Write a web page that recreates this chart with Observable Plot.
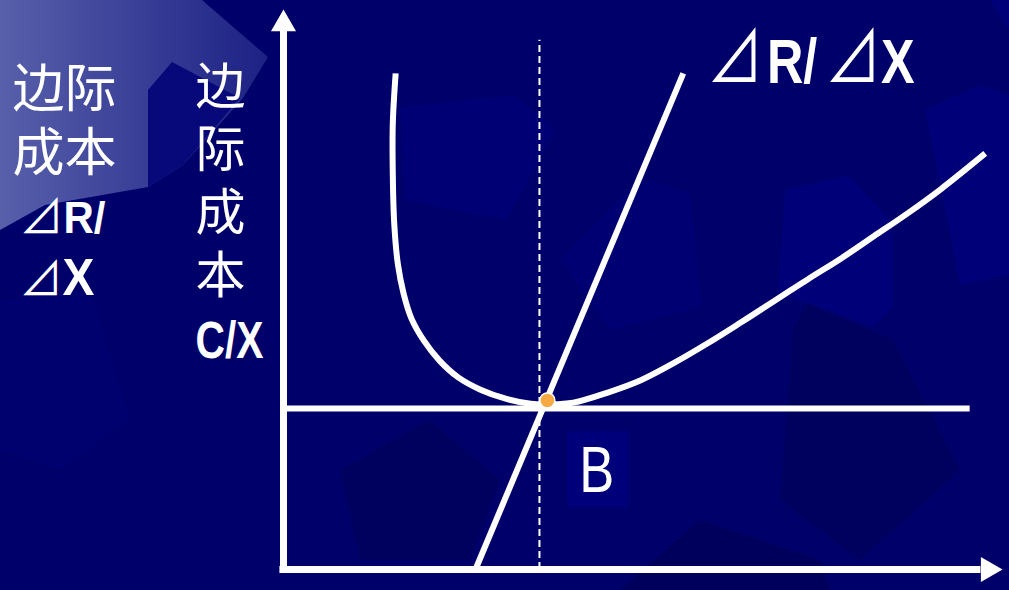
<!DOCTYPE html>
<html><head><meta charset="utf-8">
<script src="https://cdn.jsdelivr.net/npm/d3@7"></script>
<script src="https://cdn.jsdelivr.net/npm/@observablehq/plot@0.6"></script>
<style>
html,body{margin:0;padding:0;background:#00006a;overflow:hidden}
#chart svg{display:block}
</style></head><body><div id="chart"></div>
<script>
// ---- data (chart units: output X on x, cost per unit on y) ----
const acX = [1.56,1.52,1.52,1.54,1.59,1.67,1.78,1.95,2.17,2.43,2.74,3.09,3.44,3.69,4.03,4.51,4.97,5.42,5.90,6.36,6.82,7.29,7.75,8.21,8.68,9.14,9.76];
const acY = [8.86,7.96,7.07,6.18,5.46,4.93,4.48,4.09,3.73,3.43,3.21,3.05,2.96,2.95,2.98,3.16,3.38,3.68,4.04,4.41,4.79,5.18,5.55,5.95,6.36,6.79,7.43];
const mcX = [2.67,5.56];
const mcY = [0,8.86];
const minCostLevel = [2.875];
const minCostEnd = 9.55;
const optimumX = [3.56];
const guideTop = 9.45;
const pointB = [{x:3.67, y:3.02, label:"B"}];
const axisMax = 10;
const leftLabel = ["边际","成本","⊿R/","⊿X"];
const yAxisLabel = ["边际成本","C/X"];
const mcLabel = "⊿R/ ⊿X";

const acData = acX.map((x,i)=>({x, y:acY[i]}));
const mcData = mcX.map((x,i)=>({x, y:mcY[i]}));

const CJK = "'Noto Sans CJK SC', sans-serif";
const LAT = "'Liberation Sans', Arial, sans-serif";
const LATCJK = "'Liberation Sans', 'Noto Sans CJK SC', sans-serif";

function lab(text, x, y, o) {
  return Plot.text([text], {
    frameAnchor:"top-left", dx:x, dy:y, text:d=>d,
    textAnchor:"start", lineAnchor:"bottom", fill:"white",
    fontSize:o.size, fontFamily:o.family, fontWeight:o.weight||"normal",
    className:o.cls
  });
}

const chart = Plot.plot({
  width:1009, height:590,
  marginTop:0, marginRight:0, marginBottom:0, marginLeft:0,
  style:{background:"#00006a", overflow:"visible"},
  x:{domain:[0,axisMax], range:[283,1002], axis:null},
  y:{domain:[0,axisMax], range:[569,9], axis:null},
  marks:[
    // axes
    Plot.ruleX([0], {y1:-0.06, y2:9.7, stroke:"white", strokeWidth:7}),
    Plot.ruleY([0], {x1:-0.05, x2:9.7, stroke:"white", strokeWidth:7}),
    Plot.dot([{x:0,y:axisMax}], {x:"x", y:"y", symbol:"triangle", r:9.3, fill:"white", dy:14.4}),
    Plot.dot([{x:axisMax,y:0}], {x:"x", y:"y", symbol:"triangle", r:9.3, fill:"white", rotate:90, dx:-14.4}),
    // minimum level and guide
    Plot.ruleY(minCostLevel, {x1:0, x2:minCostEnd, stroke:"white", strokeWidth:6}),
    Plot.ruleX(optimumX, {y1:0, y2:guideTop, stroke:"white", strokeWidth:2, strokeDasharray:"7,4"}),
    // curves
    Plot.line(mcData, {x:"x", y:"y", stroke:"white", strokeWidth:6, strokeLinecap:"butt"}),
    Plot.line(acData, {x:"x", y:"y", curve:"catmull-rom", stroke:"white", strokeWidth:6, strokeLinecap:"butt"}),
    Plot.dot(pointB, {x:"x", y:"y", r:7.5, fill:"#f7a944", stroke:"white", strokeWidth:1.5}),
    // labels
    lab(leftLabel.join("\n"), 0, 0, {size:52, family:LATCJK, cls:"leftlab"}),
    lab(yAxisLabel[0], 220, 59.5, {size:50, family:CJK, cls:"ylab"}),
    lab(yAxisLabel[1], 195, 357, {size:52, family:LAT, weight:"bold", cls:"cx"}),
    lab(mcLabel, 706.5, 82, {size:63, family:LAT, weight:"bold", cls:"mcl"}),
    Plot.text(pointB, {x:"x", y:"y", text:"label", dx:32, dy:92, textAnchor:"start", lineAnchor:"bottom",
      fill:"white", fontSize:64, fontFamily:LAT, className:"blab"})
  ]
});

const ns = "http://www.w3.org/2000/svg";
const svg = d3.select(chart);

// decorative slide background
const defs = svg.insert("defs", ":first-child");
const g1 = defs.append("linearGradient").attr("id","tlgrad").attr("x1","0").attr("x2","1").attr("y1","0").attr("y2","0");
g1.append("stop").attr("offset","0").attr("stop-color","#5860ab");
g1.append("stop").attr("offset","1").attr("stop-color","#1c2184");
const deco = svg.insert("g", "defs + *").attr("class","deco");
const polys = [
  {p:"0,0 202,0 268,57 243,98 183,165 148,187 45,205 0,230", f:"url(#tlgrad)"},
  {p:"148,90 172,62 240,98 183,165 148,187", f:"#07097a"},
  {p:"400,107 515,95 555,130 507,220 405,200", f:"#000075"},
  {p:"785,190 848,175 893,223 893,307 873,327 778,293", f:"#000078"},
  {p:"640,177 690,193 702,307 610,330 560,260", f:"#000073"},
  {p:"925,110 980,85 1009,95 1009,275 960,285", f:"#000078"},
  {p:"990,0 1009,0 1009,30", f:"#000078"},
  {p:"340,470 430,420 500,480 470,560 360,560", f:"#00005e"},
  {p:"793,330 807,303 893,340 960,470 860,560 780,500", f:"#00005e"},
  {p:"0,300 90,290 130,420 60,470 0,450", f:"#00006f"},
  {p:"620,590 700,520 820,560 830,590", f:"#00005c"}
];
polys.forEach(d=>deco.append("polygon").attr("points", d.p).attr("fill", d.f));
deco.append("rect").attr("x",567).attr("y",431).attr("width",61).attr("height",76).attr("fill","#00007a");

// put a ⊿ glyph (CJK face, regular weight) into its own tspan
function fillSegments(el, str, triSize, extra) {
  el.textContent = "";
  for (const part of str.split(/(⊿| )/)) {
    if (!part) continue;
    const t = document.createElementNS(ns, "tspan");
    t.textContent = part;
    if (part === "⊿") {
      t.setAttribute("font-family", CJK);
      t.setAttribute("font-weight", "normal");
      t.setAttribute("font-size", triSize);
    }
    if (extra && extra[part]) for (const [k,v] of Object.entries(extra[part])) t.setAttribute(k, v);
    el.appendChild(t);
  }
}

// multi-line labels: place each row
function layoutRows(sel, rows) {
  svg.selectAll(sel + " text").each(function(){
    const tspans = Array.from(this.querySelectorAll(":scope > tspan"));
    tspans.forEach((ts, i) => {
      const r = rows[i];
      ts.removeAttribute("dy");
      ts.setAttribute("x", r.x);
      ts.setAttribute("y", r.y);
      if (r.family) ts.setAttribute("font-family", r.family);
      if (r.weight) ts.setAttribute("font-weight", r.weight);
      if (r.size) ts.setAttribute("font-size", r.size);
      if (r.tri) fillSegments(ts, ts.textContent, r.tri);
      if (r.len) { ts.setAttribute("textLength", r.len); ts.setAttribute("lengthAdjust","spacingAndGlyphs"); }
    });
  });
}
layoutRows("g.leftlab", [
  {x:12, y:106}, {x:12, y:170},
  {x:19, y:232, size:44, family:LAT, weight:"bold", tri:46, len:86},
  {x:19, y:294, size:51, family:LAT, weight:"bold", tri:46, len:75}
]);

// vertical axis title: one column of upright characters
svg.selectAll("g.ylab text")
  .style("writing-mode", "vertical-rl")
  .attr("letter-spacing", 13);
svg.selectAll("g.cx text").attr("textLength", 68).attr("lengthAdjust","spacingAndGlyphs");

// top-right label: condensed horizontally
svg.selectAll("g.mcl text").each(function(){
  fillSegments(this, this.textContent, 70, {"R/":{dx:5}, " ":{"font-size":34}});
  this.setAttribute("transform", (this.getAttribute("transform")||"") + " scale(0.8,1)");
});
svg.selectAll("g.blab text").attr("textLength", 35).attr("lengthAdjust","spacingAndGlyphs");

document.getElementById("chart").appendChild(chart);
</script></body></html>
